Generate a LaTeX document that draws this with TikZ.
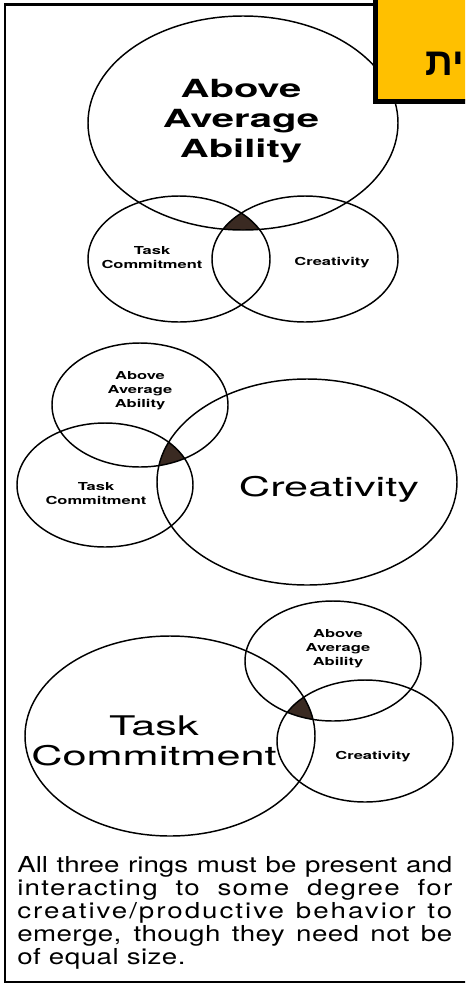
\documentclass[tikz,border=0pt]{standalone}
\usepackage{fontspec}
\newfontfamily\hbig[FakeStretch=1.6]{TeX Gyre Heros}
\newfontfamily\hmid[FakeStretch=1.6]{TeX Gyre Heros}
\newfontfamily\hsmall[FakeStretch=1.5]{TeX Gyre Heros}
\newfontfamily\hpara[FakeStretch=1.26]{TeX Gyre Heros}
\newfontfamily\hparaw[FakeStretch=1.26,LetterSpace=6]{TeX Gyre Heros}
\newfontfamily\hparax[FakeStretch=1.26,LetterSpace=9]{TeX Gyre Heros}
\newfontfamily\hparav[FakeStretch=1.26,LetterSpace=2]{TeX Gyre Heros}
\newfontfamily\hebfont[Script=Hebrew]{Liberation Sans}
\TeXXeTstate=1
\definecolor{gold}{HTML}{FFC000}
\definecolor{core}{HTML}{3A2A22}
\begin{document}
\begin{tikzpicture}[x=0.75pt,y=-0.75pt,
  ring/.style={line width=1.1pt},
  core/.style={fill=core},
  biglbl/.style={align=center,inner sep=0pt,font={\hbig\bfseries\fontsize{18.75pt}{22.5pt}\selectfont}},
  midlbl/.style={align=center,inner sep=0pt,font={\hmid\fontsize{20.3pt}{22.5pt}\selectfont}},
  smalllbl/.style={align=center,inner sep=0pt,font={\hsmall\bfseries\fontsize{8.25pt}{10.5pt}\selectfont}}]
\useasboundingbox (0,0) rectangle (465,986);
\clip (0,0) rectangle (465,986);
\fill[white] (0,0) rectangle (465,986);
% ---------- top diagram
\coordinate (A1) at (243,123);
\coordinate (T1) at (179,259);
\coordinate (C1) at (305,259);
\begin{scope}
  \clip (A1) ellipse [x radius=116.25pt, y radius=80.25pt];
  \clip (T1) ellipse [x radius=68.25pt, y radius=47.25pt];
  \fill[core] (C1) ellipse [x radius=69.75pt, y radius=47.25pt];
\end{scope}
\draw[ring] (A1) ellipse [x radius=116.25pt, y radius=80.25pt];
\draw[ring] (T1) ellipse [x radius=68.25pt, y radius=47.25pt];
\draw[ring] (C1) ellipse [x radius=69.75pt, y radius=47.25pt];
\node[biglbl] (a1) at (241,121) {Above\\Average\\Ability};
\node[smalllbl] (t1) at (152,258) {Task\\Commitment};
\node[smalllbl,anchor=base] (c1) at (332,265.5) {Creativity};
% ---------- middle diagram
\coordinate (A2) at (140,405);
\coordinate (T2) at (105,485);
\coordinate (C2) at (307,482);
\begin{scope}
  \clip (A2) ellipse [x radius=66pt, y radius=46.5pt];
  \clip (T2) ellipse [x radius=66pt, y radius=46.5pt];
  \fill[core] (C2) ellipse [x radius=112.5pt, y radius=77.25pt];
\end{scope}
\draw[ring] (A2) ellipse [x radius=66pt, y radius=46.5pt];
\draw[ring] (T2) ellipse [x radius=66pt, y radius=46.5pt];
\draw[ring] (C2) ellipse [x radius=112.5pt, y radius=77.25pt];
\node[smalllbl] (a2) at (140,391) {Above\\Average\\Ability};
\node[smalllbl] (t2) at (96,494) {Task\\Commitment};
\node[midlbl,anchor=base] (c2) at (329,496) {Creativity};
% ---------- bottom diagram
\coordinate (T3) at (170,736);
\coordinate (A3) at (333,661);
\coordinate (C3) at (365,741);
\begin{scope}
  \clip (A3) ellipse [x radius=66pt, y radius=45pt];
  \clip (C3) ellipse [x radius=66pt, y radius=45.75pt];
  \fill[core] (T3) ellipse [x radius=108.75pt, y radius=75pt];
\end{scope}
\draw[ring] (T3) ellipse [x radius=108.75pt, y radius=75pt];
\draw[ring] (A3) ellipse [x radius=66pt, y radius=45pt];
\draw[ring] (C3) ellipse [x radius=66pt, y radius=45.75pt];
\node[midlbl] (t3) at (154,741) {Task\\Commitment};
\node[smalllbl] (a3) at (338,649) {Above\\Average\\Ability};
\node[smalllbl,anchor=base] (c3) at (373,759) {Creativity};
% ---------- caption
\node[anchor=base west,inner sep=0pt] (cap) at (17,872) {\parbox[t]{326.25pt}{\fontsize{16.5pt}{17.4pt}\hpara\selectfont
\makebox[\linewidth][s]{\hpara All three rings must be present and}\par
\makebox[\linewidth][s]{\hparaw interacting to some degree for}\par
\makebox[\linewidth][s]{\hparax creative/productive behavior to}\par
\makebox[\linewidth][s]{\hparav emerge, though they need not be}\par
\hparav of equal size.}};
% ---------- frame
\draw[line width=1.6pt] (376,4.5) -- (5,4.5) -- (5,982) -- (470,982);
% ---------- yellow tag
\draw[fill=gold,line width=3.75pt] (375.5,-10) rectangle (480,101);
\node[anchor=base east,inner sep=0pt,font={\hebfont\bfseries\fontsize{29pt}{29pt}\selectfont}] (tag) at (464,75) {\beginR ית\endR};
\end{tikzpicture}
\end{document}
